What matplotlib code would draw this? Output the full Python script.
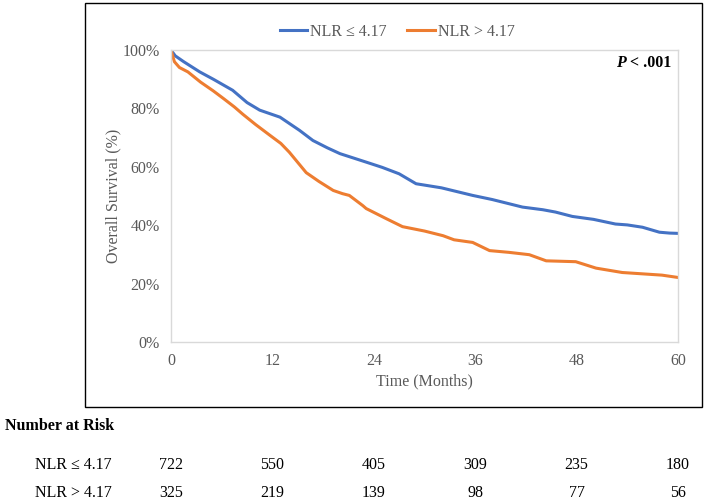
import matplotlib.pyplot as plt
from matplotlib.patches import Rectangle
from matplotlib.transforms import offset_copy

plt.rcParams['font.family'] = ['Liberation Serif', 'DejaVu Serif']

# survival curves (months, percent)
low_t = [0, 0.5, 1.5, 3.4, 5, 7.3, 9, 10.5, 12.9, 15.2, 16.8, 18.5, 20, 23.1, 25, 27, 29, 32,
         35.7, 38, 41.6, 44, 45.5, 47.5, 50, 52.6, 54, 55.8, 57.8, 59, 60]
low_s = [100, 98, 96, 92.5, 90, 86.2, 82, 79.4, 77, 72.5, 69, 66.5, 64.5, 61.6, 59.8, 57.6, 54.2, 52.8,
         50.2, 48.8, 46.2, 45.3, 44.5, 43, 42, 40.4, 40.1, 39.3, 37.6, 37.3, 37.2]
high_t = [0, 0.4, 1, 2, 3.5, 5, 6.2, 7.5, 8.5, 10, 11.7, 13, 14, 16, 17.5, 19.2, 20.3, 21.1, 22.7,
          23.1, 25.5, 27.4, 30, 32.2, 33.5, 35.7, 37.7, 40, 42.4, 44.4, 47.9, 50.3, 53.4, 58.1, 60]
high_s = [100, 96, 94, 92.5, 89, 86, 83.4, 80.5, 78, 74.5, 70.8, 68, 65, 58, 55, 51.9, 50.8, 50.2, 46.7,
          45.7, 42.2, 39.5, 38, 36.4, 35, 34.1, 31.3, 30.7, 29.9, 27.8, 27.5, 25.3, 23.8, 22.9, 22.1]

risk_months = [0, 12, 24, 36, 48, 60]
risk_low = [722, 550, 405, 309, 235, 180]
risk_high = [325, 219, 139, 98, 77, 56]
group_labels = ['NLR ≤ 4.17', 'NLR > 4.17']

blue = '#4472C4'
orange = '#ED7D31'
grey = '#595959'

fig = plt.figure(figsize=(7.05, 5.01), dpi=100)
W, H = 705, 501

# outer chart box
fig.patches.append(Rectangle((85 / W, 1 - 407 / H), 617 / W, 404 / H, transform=fig.transFigure,
                             fill=False, edgecolor='black', linewidth=1.0))

ax = fig.add_axes([171 / W, 1 - 342 / H, 507 / W, 292 / H])
ax.plot(low_t, low_s, color=blue, lw=2.2, label=group_labels[0])
ax.plot(high_t, high_s, color=orange, lw=2.2, label=group_labels[1])

ax.set_xlim(0, 60)
ax.set_ylim(0, 100)
ax.set_xticks(risk_months)
ax.set_yticks(range(0, 101, 20))
ax.set_yticklabels([f'{v}%' for v in range(0, 101, 20)])
ax.tick_params(length=0, labelsize=11.5, labelcolor=grey, pad=8)
for s in ax.spines.values():
    s.set_color('#D9D9D9')
    s.set_linewidth(1.0)

ax.set_xlabel('Time (Months)', fontsize=11.5, color=grey, labelpad=3)
ax.set_ylabel('Overall Survival (%)', fontsize=11.5, color=grey, labelpad=1)

# P value, italic bold P
ax.text(0.987, 0.955, '< .001', transform=ax.transAxes, ha='right', va='center',
        fontsize=11.5, fontweight='bold')
p_tr = offset_copy(ax.transAxes, fig=fig, x=-33, y=0, units='points')
ax.text(0.987, 0.955, 'P', transform=p_tr, ha='right', va='center',
        fontsize=11.5, fontweight='bold', style='italic')

fig.legend(loc='center', bbox_to_anchor=(397 / W, 1 - 32 / H), ncol=2, frameon=False,
           fontsize=11.5, handlelength=1.75, columnspacing=1.3, handletextpad=0.15,
           labelcolor=grey)

# number at risk table
fig.text(5 / W, 1 - 426 / H, 'Number at Risk', fontsize=11.5, fontweight='bold', va='center')
for row_y, lab, vals in [(465, group_labels[0], risk_low), (493, group_labels[1], risk_high)]:
    fig.text(35 / W, 1 - row_y / H, lab, fontsize=11.5, va='center')
    for m, v in zip(risk_months, vals):
        x_fig = fig.transFigure.inverted().transform(ax.transData.transform((m, 0)))[0]
        fig.text(x_fig, 1 - row_y / H, str(v), fontsize=11.5, va='center', ha='center')

fig.savefig('out.png', dpi=100)
